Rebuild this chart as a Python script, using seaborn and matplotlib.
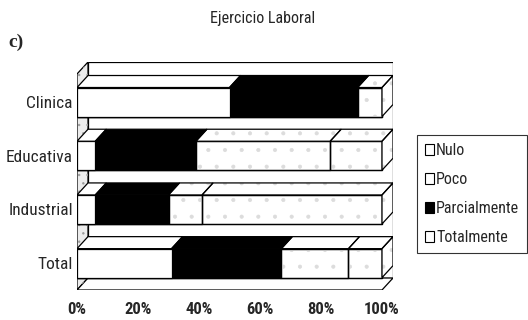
import matplotlib
matplotlib.use("Agg")
import matplotlib.pyplot as plt
from matplotlib.patches import Polygon, Rectangle, Patch
import pandas as pd
import seaborn as sns

# Survey answers per area (percent of respondents)
categories = ["Clinica", "Educativa", "Industrial", "Total"]
totalmente = [50, 6, 6, 31]
parcialmente = [42, 33, 24, 36]
poco = [8, 44, 11, 22]
nulo = [0, 17, 59, 11]
xticks = [0, 20, 40, 60, 80, 100]
xtick_labels = ["0%", "20%", "40%", "60%", "80%", "100%"]
legend_order = ["Nulo", "Poco", "Parcialmente", "Totalmente"]

# stacking order, left to right
stack = [("Totalmente", totalmente), ("Parcialmente", parcialmente),
         ("Poco", poco), ("Nulo", nulo)]
face = {"Totalmente": "white", "Parcialmente": "black", "Poco": "white", "Nulo": "white"}
stippled = {"Poco", "Nulo"}

sns.set_theme(style="white")
plt.rcParams["font.family"] = ["Roboto Condensed", "DejaVu Sans"]
plt.rcParams["hatch.linewidth"] = 0.5

W, H = 528, 320
fig = plt.figure(figsize=(W / 100, H / 100), dpi=100)
fig.patch.set_facecolor("white")

# axes box in pixels: 0% at x=77, 100% at x=382, depth adds 11 px
ax_l, ax_r, ax_t, ax_b = 77, 393, 62, 290
ax = fig.add_axes([ax_l / W, 1 - ax_b / H, (ax_r - ax_l) / W, (ax_b - ax_t) / H])

xmax = 100 * (ax_r - ax_l) / 305
dx = 100 * 11 / 305
ytop, ybot = -0.745, 3.50
dy = 12 / ((ax_b - ax_t) / (ybot - ytop))
bh = 0.54
LW = 0.9


def solid(pts, fc, z, stipple=False):
    """Filled face, optional light speckle, then the black outline on top."""
    ax.add_patch(Polygon(pts, closed=True, facecolor=fc, edgecolor="none", lw=0, zorder=z))
    if stipple:
        ax.add_patch(Polygon(pts, closed=True, facecolor="none", edgecolor="#dcdcdc",
                             lw=0, hatch=".", zorder=z + 0.1))
    ax.add_patch(Polygon(pts, closed=True, facecolor="none", edgecolor="black",
                         lw=LW, zorder=z + 0.2))


df = pd.DataFrame({"area": categories})
cum = [0] * len(categories)
lefts = {}
for name, vals in stack:
    lefts[name] = list(cum)
    cum = [c + v for c, v in zip(cum, vals)]
    df[name] = cum

# walls and floor
ax.add_patch(Rectangle((dx, ytop), 100, (ybot - dy) - ytop, facecolor="white",
                       edgecolor="black", lw=LW, zorder=0))
ax.add_patch(Polygon([(0, ytop + dy), (dx, ytop), (dx, ybot - dy), (0, ybot)],
                     closed=True, facecolor="#ececec", edgecolor="black", lw=LW,
                     zorder=0.1))
ax.add_patch(Polygon([(0, ytop + dy), (dx, ytop), (dx, ybot - dy), (0, ybot)],
                     closed=True, facecolor="none", edgecolor="#9a9a9a", lw=0,
                     hatch="..", zorder=0.15))
ax.add_patch(Polygon([(0, ybot), (100, ybot), (100 + dx, ybot - dy), (dx, ybot - dy)],
                     closed=True, facecolor="white", edgecolor="black", lw=LW, zorder=0.1))

# front faces: cumulative bars drawn from the longest to the shortest
for name, _ in reversed(stack):
    sns.barplot(data=df, x=name, y="area", order=categories, orient="h",
                color=face[name], saturation=1, edgecolor="black", linewidth=LW,
                width=bh, ax=ax, zorder=1)

# speckle on the front faces, top faces and right-hand side of each bar
for i in range(len(categories)):
    yt = i - bh / 2
    yb = i + bh / 2
    for name, vals in stack:
        l = lefts[name][i]
        r = l + vals[i]
        if vals[i] <= 0:
            continue
        if name in stippled:
            ax.add_patch(Rectangle((l, yt), vals[i], bh, facecolor="none",
                                   edgecolor="#dcdcdc", lw=0, hatch=".", zorder=1.5))
            ax.add_patch(Rectangle((l, yt), vals[i], bh, facecolor="none",
                                   edgecolor="black", lw=LW, zorder=1.6))
        top = [(l, yt), (r, yt), (r + dx, yt - dy), (l + dx, yt - dy)]
        solid(top, face[name], 3, name in stippled)
    last = [n for n, v in stack if v[i] > 0][-1]
    side = [(100, yt), (100, yb), (100 + dx, yb - dy), (100 + dx, yt - dy)]
    solid(side, face[last], 3, last in stippled)

ax.set_xlim(0, xmax)
ax.set_ylim(ybot, ytop)
ax.set_xticks(xticks)
ax.set_xticklabels(xtick_labels, fontsize=12, fontweight="bold")
ax.set_yticks(range(len(categories)))
ax.set_yticklabels(categories, fontsize=12.5)
ax.tick_params(axis="x", length=0, pad=9)
ax.tick_params(axis="y", length=0, pad=3)
ax.set_xlabel("")
ax.set_ylabel("")
for s in ax.spines.values():
    s.set_visible(False)
ax.set_facecolor("none")

# legend
handles = [Patch(facecolor=face[n], edgecolor="black", lw=0.8,
                 hatch="...." if n == "Parcialmente" else None) for n in legend_order]
leg = fig.legend(handles, legend_order, loc="upper left",
                 bbox_to_anchor=(417 / W, 1 - 135 / H),
                 prop={"size": 11.5},
                 frameon=True, fancybox=False, edgecolor="black",
                 handlelength=0.55, handleheight=0.75, handletextpad=0.15,
                 labelspacing=0.88, borderpad=0.5, borderaxespad=0)
leg.get_frame().set_linewidth(0.8)

fig.text(263 / W, 1 - 18 / H, "Ejercicio Laboral", ha="center", va="center",
         fontsize=11.5)
fig.text(8 / W, 1 - 42 / H, "c)", ha="left", va="center", fontsize=14,
         fontweight="bold", family=["Liberation Serif", "DejaVu Serif"])

fig.savefig("out.png", dpi=100, facecolor="white")
